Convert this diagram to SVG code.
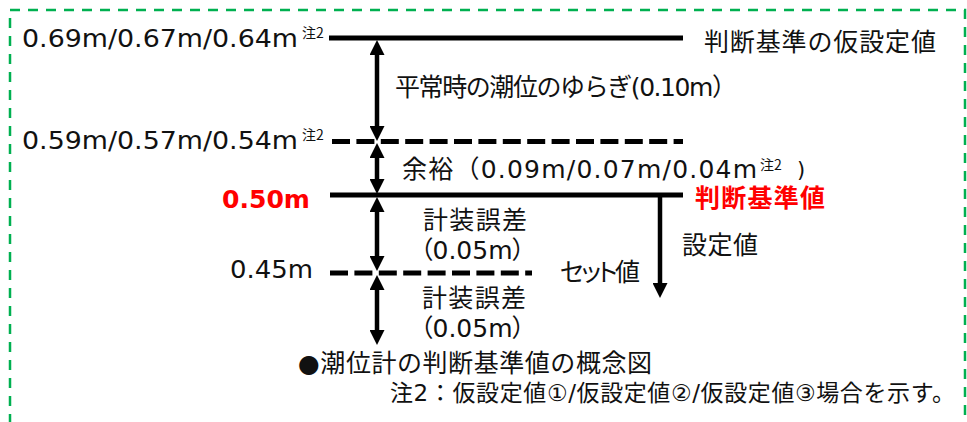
<svg xmlns="http://www.w3.org/2000/svg" width="967" height="422" viewBox="0 0 967 422">
<defs>
<style>
.t{font-family:"DejaVu Sans","Noto Sans CJK JP",sans-serif;font-size:25px;fill:#111;}
.j{font-family:"Noto Sans CJK JP","DejaVu Sans",sans-serif;font-size:25px;fill:#111;}
.p{font-feature-settings:"palt";}
.sup{font-family:"Noto Sans CJK JP","DejaVu Sans",sans-serif;font-size:14px;fill:#111;}
.red{fill:#ff0000;font-weight:bold;}
.lvl{stroke:#000;stroke-width:5;fill:none;}
.dash{stroke-dasharray:18 6.4;}
.arr{stroke:#000;stroke-width:4.5;fill:none;}
</style>
<marker id="ah" viewBox="0 0 15 15" refX="5" refY="7.5" markerWidth="15" markerHeight="15" markerUnits="userSpaceOnUse" orient="auto-start-reverse">
<path d="M0,0 L15,7.5 L0,15 z" fill="#000"/>
</marker>
</defs>
<rect id="frame" x="10" y="10" width="955" height="440" fill="none" stroke="#00b050" stroke-width="2.5" stroke-dasharray="10 8"/>
<g id="levels">
<line class="lvl" x1="329" y1="38" x2="683" y2="38"/>
<line class="lvl dash" x1="332" y1="141.5" x2="683" y2="141.5"/>
<line class="lvl" x1="330" y1="195" x2="683" y2="195"/>
<line class="lvl dash" x1="330" y1="273" x2="532" y2="273"/>
</g>
<g id="connectors">
<line class="arr" x1="377" y1="50" x2="377" y2="131" marker-start="url(#ah)" marker-end="url(#ah)"/>
<line class="arr" x1="377" y1="153" x2="377" y2="184" marker-start="url(#ah)" marker-end="url(#ah)"/>
<line class="arr" x1="377" y1="207" x2="377" y2="261" marker-start="url(#ah)" marker-end="url(#ah)"/>
<line class="arr" x1="377" y1="285" x2="377" y2="335" marker-start="url(#ah)" marker-end="url(#ah)"/>
<line class="arr" x1="660" y1="195" x2="660" y2="288" marker-end="url(#ah)"/>
</g>
<g id="label-top">
<text class="t" x="22" y="47" textLength="276" lengthAdjust="spacingAndGlyphs">0.69m/0.67m/0.64m</text>
<text class="sup" x="302" y="38">注2</text>
</g>
<g id="label-provisional">
<text class="j" x="704" y="51" textLength="232">判断基準の仮設定値</text>
</g>
<g id="label-fluctuation">
<text class="t" x="395" y="96" textLength="342">平常時の潮位のゆらぎ(0.10m）</text>
</g>
<g id="label-second">
<text class="t" x="22" y="149" textLength="276" lengthAdjust="spacingAndGlyphs">0.59m/0.57m/0.54m</text>
<text class="sup" x="302" y="140">注2</text>
</g>
<g id="label-margin">
<text class="t" x="402" y="178" textLength="355">余裕（0.09m/0.07m/0.04m</text>
<text class="sup" x="760" y="170">注2</text>
<text class="t" x="797" y="177" style="font-size:21px">)</text>
</g>
<g id="label-criterion">
<text class="t red" x="222" y="208" textLength="88" lengthAdjust="spacingAndGlyphs">0.50m</text>
<text class="t red" x="695" y="207" textLength="130">判断基準値</text>
</g>
<g id="label-error1">
<text class="j" x="423" y="229" textLength="104">計装誤差</text>
<text class="t p" x="420" y="259">（0.05m）</text>
</g>
<g id="label-set">
<text class="t" x="230" y="278" textLength="83" lengthAdjust="spacingAndGlyphs">0.45m</text>
<text class="j p" x="560" y="281" textLength="80">セット値</text>
<text class="j" x="682" y="254" textLength="76">設定値</text>
</g>
<g id="label-error2">
<text class="j" x="422" y="307" textLength="104">計装誤差</text>
<text class="t p" x="420" y="337">（0.05m）</text>
</g>
<g id="caption">
<text class="t" x="298" y="372" textLength="354">●潮位計の判断基準値の概念図</text>
<text class="t" x="390" y="401" style="font-size:23px" textLength="565">注2：仮設定値①/仮設定値②/仮設定値③場合を示す。</text>
</g>
</svg>
